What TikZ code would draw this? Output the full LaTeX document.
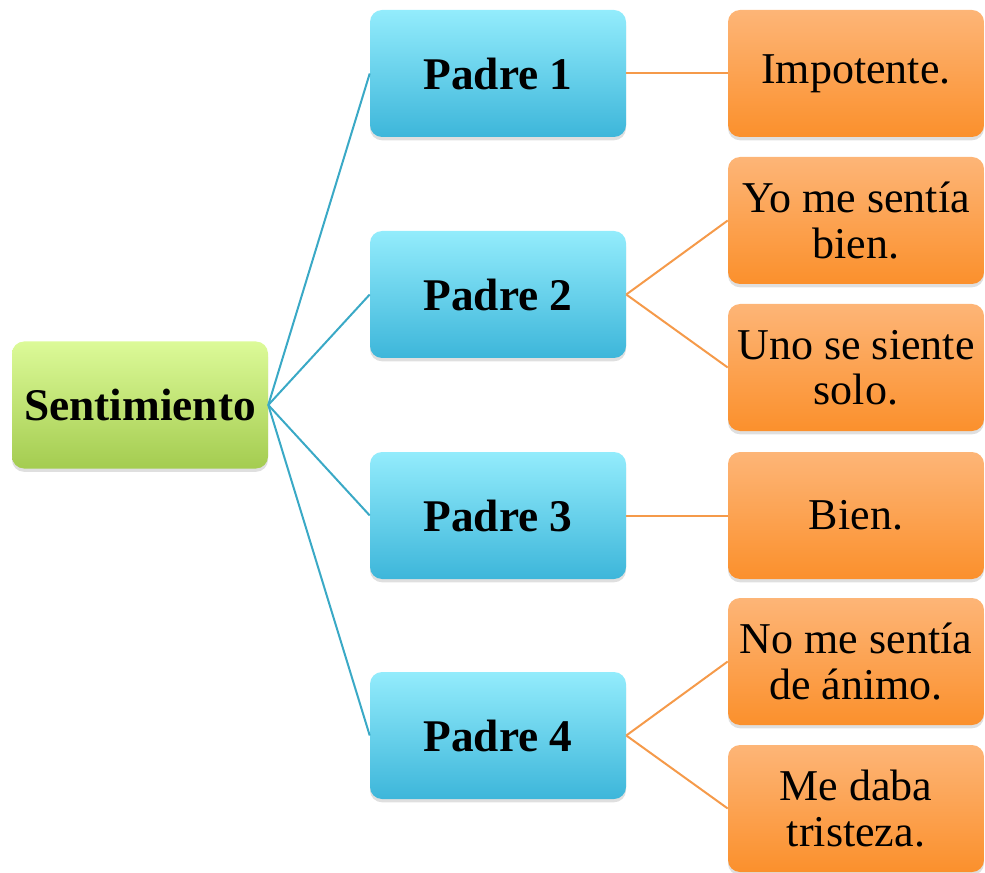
\documentclass[tikz,border=0pt]{standalone}
\usepackage{fontspec}
\setmainfont{Liberation Serif}
\usetikzlibrary{shadows}
\definecolor{gtop}{HTML}{DCFA98}
\definecolor{gbot}{HTML}{A4CC50}
\definecolor{btop}{HTML}{93ECFC}
\definecolor{bbot}{HTML}{3DB6DA}
\definecolor{otop}{HTML}{FDB577}
\definecolor{obot}{HTML}{FB902C}
\definecolor{bline}{HTML}{3AA9C6}
\definecolor{oline}{HTML}{F59A4A}
\tikzset{
  box/.style={rounded corners=9pt, minimum width=192pt, minimum height=95.25pt,
    align=center, inner sep=0pt, font=\fontsize{33}{34}\selectfont,
    drop shadow={opacity=0.25, shadow xshift=0pt, shadow yshift=-2.5pt}},
  rootbox/.style={box, top color=gtop, bottom color=gbot, font=\fontsize{34}{34}\selectfont\bfseries},
  padbox/.style={box, top color=btop, bottom color=bbot, font=\fontsize{34}{34}\selectfont\bfseries},
  leafbox/.style={box, top color=otop, bottom color=obot},
  bconn/.style={draw=bline, line width=1.5pt},
  oconn/.style={draw=oline, line width=1.5pt}
}
\begin{document}
\begin{tikzpicture}[x=0.75pt, y=-0.75pt]
\useasboundingbox (0,0) rectangle (985,873);
\node[rootbox] (s) at (140,405) {Sentimiento};
\node[padbox] (p1) at (498,73.5) {Padre 1};
\node[padbox] (p2) at (498,294.5) {Padre 2};
\node[padbox] (p3) at (498,515.5) {Padre 3};
\node[padbox] (p4) at (498,735.5) {Padre 4};
\node[leafbox] (l1) at (856,73.5) {Impotente.};
\node[leafbox] (l2) at (856,220.5) {Yo me sentía\\bien.};
\node[leafbox] (l3) at (856,367.5) {Uno se siente\\solo.};
\node[leafbox] (l4) at (856,515.5) {Bien.};
\node[leafbox] (l5) at (856,661.5) {No me sentía\\de ánimo.};
\node[leafbox] (l6) at (856,808.5) {Me daba\\tristeza.};
\foreach \p in {p1,p2,p3,p4} \draw[bconn] (s.east) -- (\p.west);
\draw[oconn] (p1.east) -- (l1.west);
\draw[oconn] (p2.east) -- (l2.west);
\draw[oconn] (p2.east) -- (l3.west);
\draw[oconn] (p3.east) -- (l4.west);
\draw[oconn] (p4.east) -- (l5.west);
\draw[oconn] (p4.east) -- (l6.west);
\end{tikzpicture}
\end{document}
